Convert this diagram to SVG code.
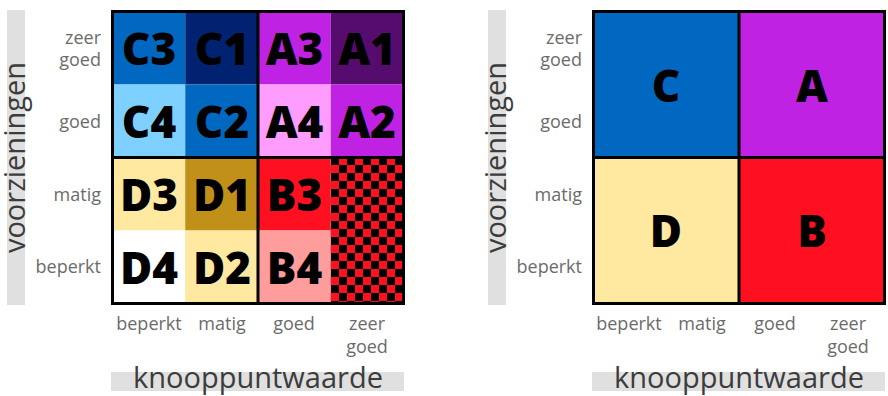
<svg xmlns="http://www.w3.org/2000/svg" width="888" height="396" viewBox="0 0 888 396">
<style>
  .cell-label{font-family:"Open Sans","Noto Sans","Liberation Sans",sans-serif;font-weight:800;font-size:44px;fill:#000;text-anchor:middle}
  .tick{font-family:"Open Sans","Noto Sans","Liberation Sans",sans-serif;font-size:18px;fill:#6b6b6b}
  .ytick{text-anchor:end}
  .xtick{text-anchor:middle}
  .title{font-family:"Open Sans","Noto Sans","Liberation Sans",sans-serif;font-size:29px;fill:#3c3c3c;text-anchor:middle}
  .bar{fill:#e0e0e0}
  .border{fill:none;stroke:#000;stroke-width:3}
  .divider{stroke:#000;stroke-width:3}
</style>
<defs>
  <pattern id="checker" x="331" y="157" width="16" height="16" patternUnits="userSpaceOnUse">
    <rect width="16" height="16" fill="#000"/>
    <rect x="8" y="0" width="8" height="8" fill="#ff1020"/>
    <rect x="0" y="8" width="8" height="8" fill="#ff1020"/>
  </pattern>
</defs>
<rect width="888" height="396" fill="#fff"/>

<!-- LEFT PANEL -->
<g id="left-axes">
  <rect class="bar" x="7" y="10" width="18" height="295"/>
  <text class="title" transform="translate(25,157.5) rotate(-90)">voorzieningen</text>
  <rect class="bar" x="111" y="372" width="293" height="19"/>
  <text class="title" x="258" y="388">knooppuntwaarde</text>
  <text class="tick ytick" x="101" y="44">zeer</text>
  <text class="tick ytick" x="101" y="66">goed</text>
  <text class="tick ytick" x="101" y="128">goed</text>
  <text class="tick ytick" x="101" y="201">matig</text>
  <text class="tick ytick" x="101" y="273">beperkt</text>
  <text class="tick xtick" x="149" y="330">beperkt</text>
  <text class="tick xtick" x="222" y="330">matig</text>
  <text class="tick xtick" x="294" y="330">goed</text>
  <text class="tick xtick" x="367" y="330">zeer</text>
  <text class="tick xtick" x="367" y="353">goed</text>
</g>

<g id="C3"><rect x="112.5" y="11.5" width="72.75" height="73" fill="#0068c0"/><text class="cell-label" x="149" y="65">C3</text></g>
<g id="C1"><rect x="185.25" y="11.5" width="72.75" height="73" fill="#002270"/><text class="cell-label" x="222" y="65">C1</text></g>
<g id="A3"><rect x="258" y="11.5" width="72.75" height="73" fill="#c022e4"/><text class="cell-label" x="294.5" y="65">A3</text></g>
<g id="A1"><rect x="330.75" y="11.5" width="72.75" height="73" fill="#560c6e"/><text class="cell-label" x="367" y="65">A1</text></g>

<g id="C4"><rect x="112.5" y="84.5" width="72.75" height="73" fill="#7dd0ff"/><text class="cell-label" x="149" y="138">C4</text></g>
<g id="C2"><rect x="185.25" y="84.5" width="72.75" height="73" fill="#0068c0"/><text class="cell-label" x="222" y="138">C2</text></g>
<g id="A4"><rect x="258" y="84.5" width="72.75" height="73" fill="#ff9cff"/><text class="cell-label" x="294.5" y="138">A4</text></g>
<g id="A2"><rect x="330.75" y="84.5" width="72.75" height="73" fill="#c022e4"/><text class="cell-label" x="367" y="138">A2</text></g>

<g id="D3"><rect x="112.5" y="157.5" width="72.75" height="73" fill="#ffe8a0"/><text class="cell-label" x="149" y="211">D3</text></g>
<g id="D1"><rect x="185.25" y="157.5" width="72.75" height="73" fill="#c09018"/><text class="cell-label" x="222" y="211">D1</text></g>
<g id="B3"><rect x="258" y="157.5" width="72.75" height="73" fill="#ff1020"/><text class="cell-label" x="294.5" y="211">B3</text></g>

<g id="D4"><rect x="112.5" y="230.5" width="72.75" height="73" fill="#ffffff"/><text class="cell-label" x="149" y="284">D4</text></g>
<g id="D2"><rect x="185.25" y="230.5" width="72.75" height="73" fill="#ffe8a0"/><text class="cell-label" x="222" y="284">D2</text></g>
<g id="B4"><rect x="258" y="230.5" width="72.75" height="73" fill="#ff9c9c"/><text class="cell-label" x="294.5" y="284">B4</text></g>

<g id="B-checker"><rect x="330.75" y="157.5" width="72.75" height="146" fill="url(#checker)"/></g>

<g id="left-frame">
  <line class="divider" x1="258" y1="11.5" x2="258" y2="303.5"/>
  <line class="divider" x1="112.5" y1="157.5" x2="403.5" y2="157.5"/>
  <rect class="border" x="112.5" y="11.5" width="291" height="292"/>
</g>

<!-- RIGHT PANEL -->
<g id="right-axes">
  <rect class="bar" x="488" y="10" width="18" height="295"/>
  <text class="title" transform="translate(506,157.5) rotate(-90)">voorzieningen</text>
  <rect class="bar" x="592" y="372" width="293" height="19"/>
  <text class="title" x="739" y="388">knooppuntwaarde</text>
  <text class="tick ytick" x="582" y="44">zeer</text>
  <text class="tick ytick" x="582" y="66">goed</text>
  <text class="tick ytick" x="582" y="128">goed</text>
  <text class="tick ytick" x="582" y="201">matig</text>
  <text class="tick ytick" x="582" y="273">beperkt</text>
  <text class="tick xtick" x="629" y="330">beperkt</text>
  <text class="tick xtick" x="702" y="330">matig</text>
  <text class="tick xtick" x="775" y="330">goed</text>
  <text class="tick xtick" x="848" y="330">zeer</text>
  <text class="tick xtick" x="848" y="353">goed</text>
</g>

<g id="C"><rect x="593.5" y="11.5" width="145.5" height="146" fill="#0068c0"/><text class="cell-label" x="666" y="102">C</text></g>
<g id="A"><rect x="739" y="11.5" width="145.5" height="146" fill="#c022e4"/><text class="cell-label" x="812" y="102">A</text></g>
<g id="D"><rect x="593.5" y="157.5" width="145.5" height="146" fill="#ffe8a0"/><text class="cell-label" x="666" y="247">D</text></g>
<g id="B"><rect x="739" y="157.5" width="145.5" height="146" fill="#ff1020"/><text class="cell-label" x="812" y="247">B</text></g>

<g id="right-frame">
  <line class="divider" x1="739" y1="11.5" x2="739" y2="303.5"/>
  <line class="divider" x1="593.5" y1="157.5" x2="884.5" y2="157.5"/>
  <rect class="border" x="593.5" y="11.5" width="291" height="292"/>
</g>
</svg>
